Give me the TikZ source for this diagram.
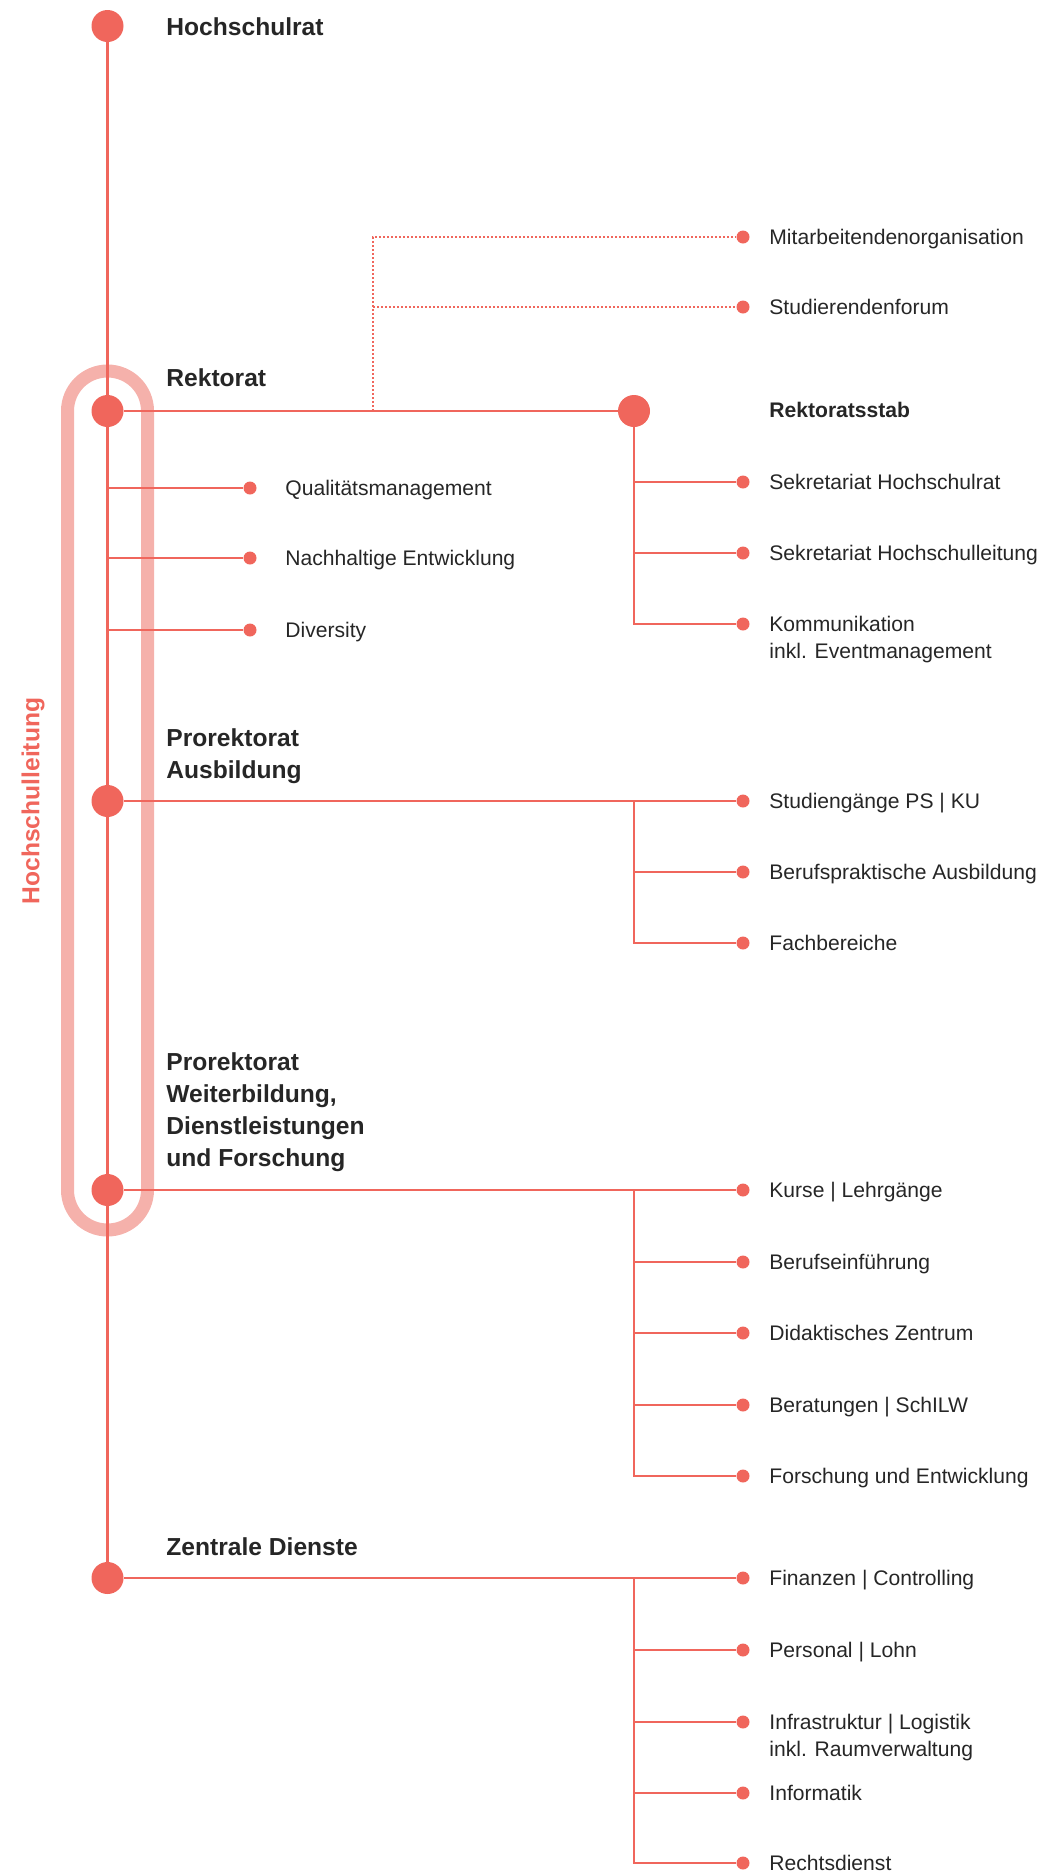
\documentclass[tikz,border=0pt]{standalone}
\usepackage{fontspec}
\setmainfont{Liberation Sans}
\definecolor{coral}{HTML}{F0665C}
\definecolor{pillred}{HTML}{F5B1AB}
\definecolor{ink}{HTML}{262626}

\begin{document}
\begin{tikzpicture}[x=0.5pt, y=-0.5pt,
            bigdot/.style={circle, fill=coral, inner sep=0pt, minimum size=16pt},
            smalldot/.style={circle, fill=coral, inner sep=0pt, minimum size=6.5pt},
            head/.style={anchor=base west, inner sep=0pt, align=left, text=ink,
              font=\bfseries\fontsize{12.3}{16}\selectfont},
            item/.style={anchor=base west, inner sep=0pt, align=left, text=ink,
              font=\fontsize{10.55}{13.5}\selectfont},
            link/.style={draw=coral, line width=1.3pt},
            loose/.style={draw=coral, line width=1pt, dash pattern=on 1pt off 1pt},
            pill/.style={draw=pillred, line width=6.5pt, rounded corners=20pt}]
            \useasboundingbox (0,0) rectangle (1039,1874);

            % main column
            \node[bigdot] (hsr) at (107.5,26) {};
            \node[bigdot] (rek) at (107.5,411) {};
            \node[bigdot] (pa) at (107.5,801) {};
            \node[bigdot] (pwdf) at (107.5,1190) {};
            \node[bigdot] (zd) at (107.5,1578) {};
            \node[bigdot] (rs) at (634,411) {};

            % (base of a multi-line node = last line)
            \node[head] (hsr-t) at (166,35) {Hochschulrat};
            \node[head] (rek-t) at (166,386) {Rektorat};
            \node[head] (pa-t) at (166,778) {Prorektorat\\Ausbildung};
            \node[head] (pwdf-t) at (166,1166) {Prorektorat\\Weiterbildung,\\Dienstleistungen\\und Forschung};
            \node[head] (zd-t) at (166,1555) {Zentrale Dienste};
            \node[item, font=\bfseries\fontsize{10.55}{13.5}\selectfont] (rs-t) at (769,417) {Rektoratsstab};
            \node[rotate=90, anchor=base, inner sep=0pt, text=coral,
              font=\bfseries\fontsize{12.3}{16}\selectfont] (hsl) at (39.5,801) {Hochschulleitung};

            % items
            \foreach \n/\y/\t in {qm/488/Qualitätsmanagement,
                ne/558/Nachhaltige Entwicklung, div/630/Diversity}
              {\node[smalldot] (\n) at (250,\y) {};
               \node[item] (\n-t) at (285,\y+7.5) {\t};}
            \foreach \n/\y/\d/\t in {mo/237/0/Mitarbeitendenorganisation, sf/307/0/Studierendenforum,
                shr/482/0/Sekretariat Hochschulrat, shl/553/0/Sekretariat Hochschulleitung,
                kom/624/27/{Kommunikation\\inkl. Eventmanagement},
                sg/801/0/Studiengänge PS | KU, bpa/872/0/Berufspraktische Ausbildung, fb/943/0/Fachbereiche,
                kl/1190/0/Kurse | Lehrgänge, be/1262/0/Berufseinführung, dz/1333/0/Didaktisches Zentrum,
                ber/1405/0/Beratungen | SchILW, fe/1476/0/Forschung und Entwicklung,
                fc/1578/0/Finanzen | Controlling, pl/1650/0/Personal | Lohn,
                il/1722/27/{Infrastruktur | Logistik\\inkl. Raumverwaltung},
                inf/1793/0/Informatik, rd/1863/0/Rechtsdienst}
              {\node[smalldot] (\n) at (743,\y) {};
               \node[item] (\n-t) at (769,\y+7.5+\d) {\t};}

            \draw[pill] ([shift={(-40,-40)}]rek.center) rectangle ([shift={(40,40)}]pwdf.center);

            % connectors
            \draw[link] (hsr) -- (zd);
            \draw[link] (rek) -- (rs);
            \draw[link] (rek |- qm) -- (qm);
            \draw[link] (rek |- ne) -- (ne);
            \draw[link] (rek |- div) -- (div);
            \coordinate (gremien) at (373,411);
            \draw[loose] (gremien) |- (mo);
            \draw[loose] (gremien |- sf) -- (sf);
            \draw[link] (rs) |- (kom);
            \draw[link] (rs |- shr) -- (shr);
            \draw[link] (rs |- shl) -- (shl);

            \draw[link] (pa) -- (sg);
            \draw[link] (rs |- sg) |- (fb);
            \draw[link] (rs |- bpa) -- (bpa);

            \draw[link] (pwdf) -- (kl);
            \draw[link] (rs |- kl) |- (fe);
            \draw[link] (rs |- be) -- (be);
            \draw[link] (rs |- dz) -- (dz);
            \draw[link] (rs |- ber) -- (ber);

            \draw[link] (zd) -- (fc);
            \draw[link] (rs |- fc) |- (rd);
            \draw[link] (rs |- pl) -- (pl);
            \draw[link] (rs |- il) -- (il);
            \draw[link] (rs |- inf) -- (inf);
          \end{tikzpicture}
\end{document}
